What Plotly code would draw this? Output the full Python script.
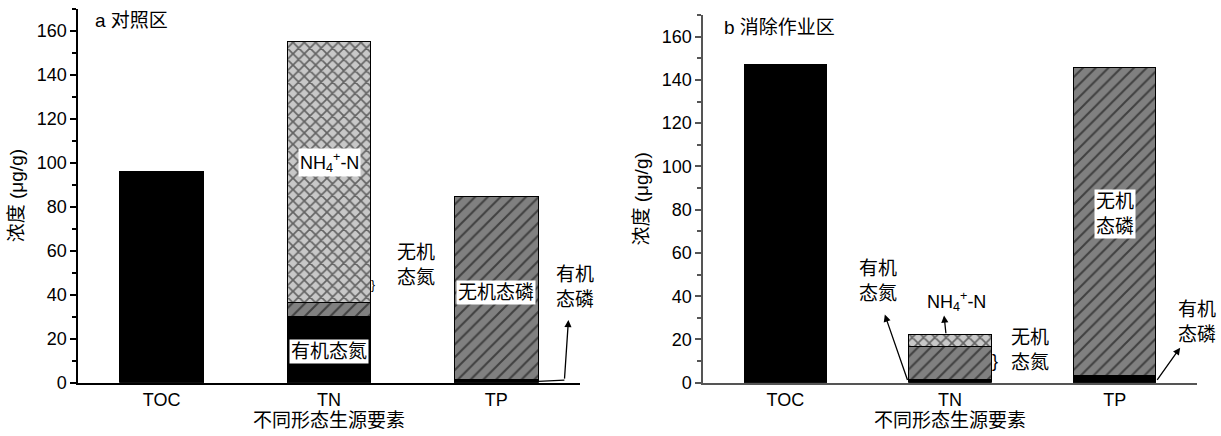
import plotly.graph_objects as go

# Categories on the x axis
categories = ["TOC", "TN", "TP"]

# Panel a: control plot (μg/g)
a_toc = [96.0]
a_tn_organic = [30.0]
a_tn_inorganic = [6.5]
a_tn_nh4 = [118.5]
a_tp_organic = [1.5]
a_tp_inorganic = [83.0]

# Panel b: removal operation plot (μg/g)
b_toc = [147.0]
b_tn_organic = [1.6]
b_tn_inorganic = [15.2]
b_tn_nh4 = [5.4]
b_tp_organic = [3.5]
b_tp_inorganic = [142.0]

FONT = "Liberation Sans, Arial, Noto Sans CJK SC"
HATCH_BG = "#808080"
CROSS_BG = "#c8c8c8"

fig = go.Figure()


def solid(x, y, xa, ya):
    return go.Bar(x=x, y=y, xaxis=xa, yaxis=ya, width=0.5,
                  marker=dict(color="black", line=dict(color="black", width=1)),
                  showlegend=False, hoverinfo="skip")


def hatched(x, y, xa, ya):
    return go.Bar(x=x, y=y, xaxis=xa, yaxis=ya, width=0.5,
                  marker=dict(color=HATCH_BG, line=dict(color="black", width=1),
                              pattern=dict(shape="/", fgcolor="black", size=9, solidity=0.22)),
                  showlegend=False, hoverinfo="skip")


def crossed(x, y, xa, ya):
    return go.Bar(x=x, y=y, xaxis=xa, yaxis=ya, width=0.5,
                  marker=dict(color=CROSS_BG, line=dict(color="black", width=1),
                              pattern=dict(shape="x", fgcolor="black", size=8, solidity=0.38)),
                  showlegend=False, hoverinfo="skip")


for xa, ya, toc, tno, tni, tnh, tpo, tpi in [
    ("x", "y", a_toc, a_tn_organic, a_tn_inorganic, a_tn_nh4, a_tp_organic, a_tp_inorganic),
    ("x2", "y2", b_toc, b_tn_organic, b_tn_inorganic, b_tn_nh4, b_tp_organic, b_tp_inorganic),
]:
    fig.add_trace(solid(["TOC"], toc, xa, ya))
    fig.add_trace(solid(["TN"], tno, xa, ya))
    fig.add_trace(hatched(["TN"], tni, xa, ya))
    fig.add_trace(crossed(["TN"], tnh, xa, ya))
    fig.add_trace(solid(["TP"], tpo, xa, ya))
    fig.add_trace(hatched(["TP"], tpi, xa, ya))

axis_x = dict(type="category", categoryorder="array", categoryarray=categories,
              range=[-0.5, 2.5], showline=True, linewidth=1.5, ticks="",
              showgrid=False, zeroline=False, automargin=False,
              tickfont=dict(family=FONT, size=18, color="black"),
              title=dict(text="不同形态生源要素", font=dict(family=FONT, size=19, color="black"),
                         standoff=0))
axis_y = dict(range=[0, 170], tickvals=[0, 20, 40, 60, 80, 100, 120, 140, 160],
              showline=True, linewidth=1.5, ticks="outside", ticklen=6, tickwidth=1.5,
              minor=dict(dtick=10, tick0=0, ticks="outside", ticklen=4, tickwidth=1.5),
              showgrid=False, zeroline=False, automargin=False,
              tickfont=dict(family=FONT, size=18, color="black"),
              title=dict(text="浓度 (μg/g)", font=dict(family=FONT, size=19, color="black"),
                         standoff=8))

fig.update_layout(
    width=1221, height=436, autosize=False,
    margin=dict(l=0, r=0, t=0, b=0, autoexpand=False),
    paper_bgcolor="white", plot_bgcolor="white",
    barmode="stack", bargap=0.5,
    font=dict(family=FONT, size=17, color="black"),
    xaxis=dict(axis_x, domain=[0.0639, 0.475], anchor="y", linecolor="black"),
    yaxis=dict(axis_y, domain=[0.1222, 0.9805], anchor="x", linecolor="black",
               tickcolor="black"),
    xaxis2=dict(axis_x, domain=[0.5758, 0.9803], anchor="y2", linecolor="#555555"),
    yaxis2=dict(axis_y, domain=[0.1222, 0.9656], anchor="x2", linecolor="#555555",
                tickcolor="#555555"),
)
fig.update_yaxes(minor_tickcolor="black", selector=dict(anchor="x"))
fig.update_yaxes(minor_tickcolor="#555555", selector=dict(anchor="x2"))

ann = []


def label(text, x, y, xref, yref, bg=None, size=19, xanchor="center"):
    d = dict(text=text, x=x, y=y, xref=xref, yref=yref, showarrow=False,
             xanchor=xanchor, yanchor="middle",
             font=dict(family=FONT, size=size, color="black"), borderpad=1)
    if bg:
        d["bgcolor"] = bg
    ann.append(d)


def arrow(x_tip, y_tip, x_tail, y_tail, xref, yref):
    ann.append(dict(text="", x=x_tip, y=y_tip, ax=x_tail, ay=y_tail,
                    xref=xref, yref=yref, axref=xref, ayref=yref,
                    showarrow=True, arrowhead=2, arrowsize=1.1, arrowwidth=1.3,
                    arrowcolor="black"))


NH4 = "NH<sub>4</sub><sup>+</sup>-N"

# Panel a annotations
label("a 对照区", 0.03, 0.969, "x domain", "y domain", xanchor="left")
label(NH4, 1.0, 100, "x", "y", bg="white", size=18)
label("有机态氮", 1.0, 14, "x", "y", bg="white")
label("无机<br>态氮", 1.52, 53.5, "x", "y")
label("}", 1.26, 44.4, "x", "y", size=12)
label("无机态磷", 2.0, 40.8, "x", "y", bg="white")
label("有机<br>态磷", 2.47, 43.5, "x", "y")
arrow(2.431, 28.5, 2.407, 1.2, "x", "y")
fig.add_shape(type="line", x0=2.25, y0=0.6, x1=2.407, y1=1.2, xref="x", yref="y",
              line=dict(color="black", width=1.3))

# Panel b annotations
label("b 消除作业区", 0.038, 0.965, "x2 domain", "y2 domain", xanchor="left")
label("有机<br>态氮", 0.562, 46.9, "x2", "y2")
arrow(0.604, 31.5, 0.745, 0.6, "x2", "y2")
label(NH4, 1.04, 37.6, "x2", "y2", size=18)
arrow(0.964, 31.1, 0.976, 22.2, "x2", "y2")
label("}", 1.274, 10.0, "x2", "y2", size=18)
label("无机<br>态氮", 1.486, 15.2, "x2", "y2")
label("无机<br>态磷", 2.0, 78, "x2", "y2", bg="white")
label("有机<br>态磷", 2.50, 28.3, "x2", "y2")
arrow(2.398, 16.2, 2.252, 0.6, "x2", "y2")

fig.update_layout(annotations=ann)

fig.write_html("out.html")
